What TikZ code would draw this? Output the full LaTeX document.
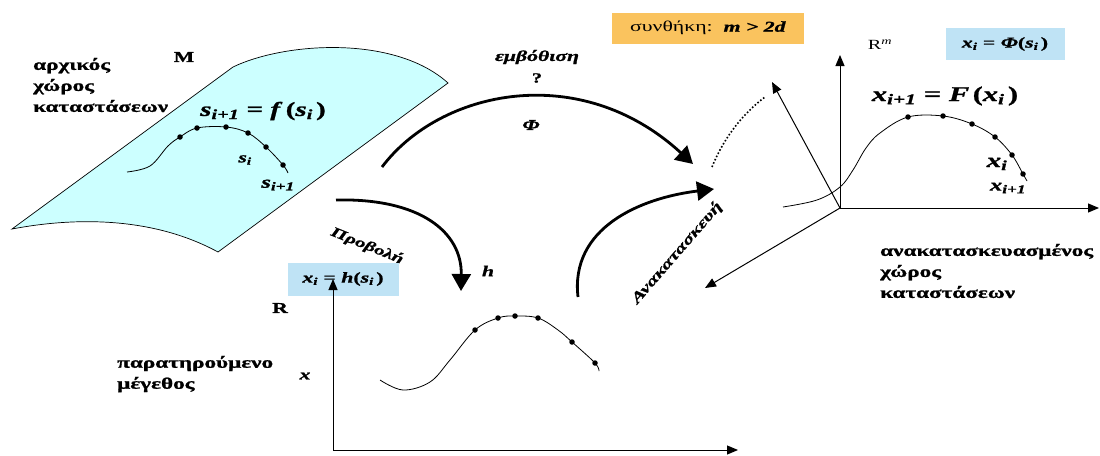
\documentclass[tikz,border=0pt]{standalone}
\usepackage{fontspec}
\setmainfont[FakeStretch=1.45,BoldFeatures={FakeBold=1.2},BoldItalicFeatures={FakeBold=1.2}]{Liberation Serif}
\usetikzlibrary{arrows.meta}
\newcommand\bi[1]{\textbf{\textit{#1}}}
\newcommand\sbs[1]{\textsubscript{\bfseries\itshape #1}}
\definecolor{manif}{HTML}{CCFFFF}
\definecolor{boxblue}{HTML}{BFE3F5}
\definecolor{boxorange}{HTML}{FAC35E}
\begin{document}
\begin{tikzpicture}[x=1pt,y=-1pt,
  bigarrow/.style={line width=2.8pt,-{Triangle[length=17pt,width=19pt]}},
  axisline/.style={line width=1pt,-{Triangle[length=11pt,width=9pt]}},
  curveline/.style={line width=0.8pt},
  pt/.style={circle,fill=black,inner sep=0pt,minimum size=5.5pt},
  grklabel/.style={font=\bfseries\fontsize{16}{21}\selectfont,align=left,anchor=west,inner sep=0pt},
  mathlabel/.style={inner sep=0pt},
  infobox/.style={inner sep=0pt,font=\fontsize{15}{17}\selectfont}
]
\useasboundingbox (0,0) rectangle (1100,455);
\fill[white] (0,0) rectangle (1100,455);

% manifold
\draw[fill=manif,line width=0.7pt] (12,229) -- (233,67) .. controls (285,42) and (395,35) .. (448,83) -- (218,252) .. controls (150,215) and (70,218) .. (12,229) -- cycle;
\node[font=\bfseries\fontsize{15}{18}\selectfont] (M) at (184,57) {M};
\node[grklabel] (orig) at (33,85) {αρχικός\\χώρος\\καταστάσεων};

% manifold curve
\draw[curveline] plot[smooth,tension=0.6] coordinates {(127,172) (150,166) (168,146) (180,137) (197,128) (226,127) (248,133) (266,147) (283,165) (288,173)};
\foreach \n/\p in {a1/{(180,137)},a2/{(197,128)},a3/{(226,127)},a4/{(248,133)},a5/{(266,147)},a6/{(283,165)}}
  \node[pt] (\n) at \p {};
\node[mathlabel,font=\fontsize{20}{24}\selectfont] (feq) at (263,111) {\bi{s}\sbs{i+1} \textbf{=} \bi{f}\,\textbf{(}\bi{s}\sbs{i}\,\textbf{)}};
\node[mathlabel,font=\fontsize{15}{18}\selectfont] (si) at (245,160) {\bi{s}\sbs{i}};
\node[mathlabel,font=\fontsize{17}{20}\selectfont] (si1) at (278,185) {\bi{s}\sbs{i+1}};

% embedding arrow
\coordinate (e1) at (382,167);
\coordinate (e2) at (693,164);
\draw[bigarrow] (e1) .. controls (440,90) and (580,60) .. (e2);
\node[font=\bfseries\itshape\fontsize{15}{18}\selectfont] (emb) at (537,57) {εμβόθιση};
\node[font=\bfseries\fontsize{14}{16}\selectfont] (q) at (537,78) {?};
\node[font=\bfseries\itshape\fontsize{15}{18}\selectfont] (Phi) at (531,125) {Φ};

% condition box
\node[infobox,fill=boxorange,minimum width=192pt,minimum height=31pt] (cond) at (708,28) {συνθήκη:\ \ \bi{m > 2d}};

% projection arrow
\coordinate (p1) at (336,200);
\coordinate (p2) at (461,291);
\draw[bigarrow] (p1) .. controls (420,198) and (462,232) .. (p2);
\node[font=\bfseries\itshape\fontsize{14}{16}\selectfont,rotate=-22] (proj) at (367,246) {Προβολή};
\node[font=\bfseries\itshape\fontsize{15}{18}\selectfont] (h) at (488,271) {h};

% reconstruction arrow
\coordinate (r1) at (578,297);
\coordinate (r2) at (714,189);
\draw[bigarrow] (r1) .. controls (570,228) and (640,198) .. (r2);
\node[font=\bfseries\itshape\fontsize{14.5}{16}\selectfont,rotate=49] (rec) at (677,253) {Ανακατασκευή};

% observed axes
\node[infobox,fill=boxblue,minimum width=111pt,minimum height=33pt] (hbox) at (343,279) {\bi{x}\sbs{i}\ \textbf{=}\ \bi{h}\textbf{(}\bi{s}\sbs{i}\,\textbf{)}};
\coordinate (O1) at (333,450);
\coordinate (Y1) at (333,279);
\coordinate (X1) at (738,450);
\draw[axisline] (O1) -- (Y1);
\draw[axisline] (O1) -- (X1);
\node[font=\bfseries\fontsize{15}{18}\selectfont] (R1) at (280,308) {R};
\node[font=\bfseries\itshape\fontsize{15}{16}\selectfont] (xlab) at (305,376) {x};
\node[grklabel] (obs) at (117,374) {παρατηρούμενο\\μέγεθος};

\draw[curveline] plot[smooth,tension=0.6] coordinates {(380,380) (403,390) (430,382) (450,360) (475,330) (498,318) (515,316) (538,318) (558,330) (572,342) (595,363) (599,371)};
\foreach \n/\p in {b1/{(475,330)},b2/{(498,318)},b3/{(515,316)},b4/{(538,318)},b5/{(572,342)},b6/{(595,363)}}
  \node[pt] (\n) at \p {};

% reconstructed space axes
\coordinate (O2) at (840,208);
\coordinate (Y2) at (840,55);
\coordinate (X2) at (1099,208);
\coordinate (U2) at (772,82);
\coordinate (D2) at (705,288);
\draw[axisline] (O2) -- (Y2);
\draw[axisline] (O2) -- (X2);
\draw[axisline] (O2) -- (U2);
\draw[axisline] (O2) -- (D2);
\coordinate (dt1) at (712,167);
\coordinate (dt2) at (765,97);
\draw[dotted,line width=1.6pt] (dt1) .. controls (725,135) and (745,112) .. (dt2);
\node[font=\fontsize{14}{16}\selectfont] (Rm) at (880,45) {R\textsuperscript{\itshape m}};
\node[infobox,fill=boxblue,minimum width=119pt,minimum height=32pt] (phibox) at (1005,44) {\bi{x}\sbs{i}\ \textbf{=}\ \bi{Φ}\textbf{(}\bi{s}\sbs{i}\,\textbf{)}};

\draw[curveline] plot[smooth,tension=0.6] coordinates {(783,207) (817,200) (840,187) (853,170) (866,148) (880,133) (908,117) (943,116) (972,124) (995,137) (1012,155) (1023,174) (1027,181)};
\foreach \n/\p in {c1/{(908,117)},c2/{(943,116)},c3/{(972,124)},c4/{(995,137)},c5/{(1012,155)},c6/{(1023,174)}}
  \node[pt] (\n) at \p {};
\node[mathlabel,font=\fontsize{21}{24}\selectfont] (Feq) at (945,96) {\bi{x}\sbs{i+1} \textbf{=} \bi{F}\,\textbf{(}\bi{x}\sbs{i}\,\textbf{)}};
\node[mathlabel,font=\fontsize{20}{22}\selectfont] (xi) at (997,164) {\bi{x}\sbs{i}};
\node[mathlabel,font=\fontsize{17}{20}\selectfont] (xi1) at (1008,188) {\bi{x}\sbs{i+1}};
\node[grklabel] (recsp) at (880,271) {ανακατασκευασμένος\\χώρος\\καταστάσεων};
\end{tikzpicture}
\end{document}
